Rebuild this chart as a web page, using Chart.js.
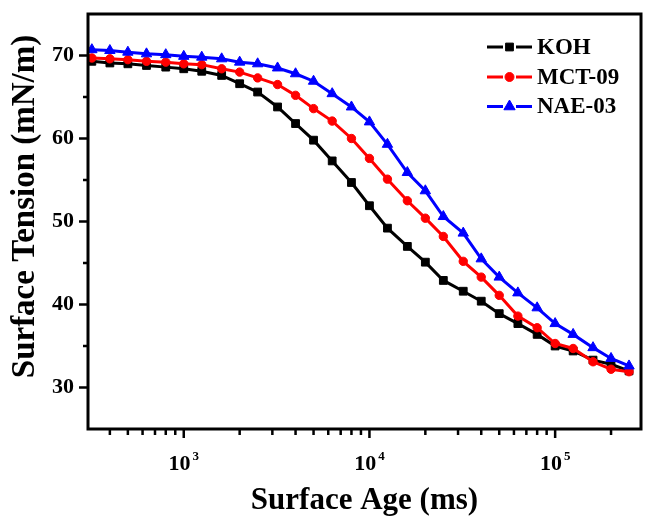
<!DOCTYPE html>
<html>
<head>
<meta charset="utf-8">
<script src="https://cdn.jsdelivr.net/npm/chart.js@4/dist/chart.umd.min.js"></script>
<style>
  html, body { margin: 0; padding: 0; background: #fff; }
  canvas { display: block; }
</style>
</head>
<body>
<canvas id="tensionChart" width="648" height="519"></canvas>
<script>
// surface age in ms (same sampling for the three solutions)
const surfaceAge = [320, 400, 500, 630, 800, 1000, 1250, 1600, 2000, 2500,
  3200, 4000, 5000, 6300, 8000, 10000, 12500, 16000, 20000, 25000,
  32000, 40000, 50000, 63000, 80000, 100000, 125000, 160000, 200000, 250000];

// surface tension in mN/m
const kohTension = [69.3, 69.1, 69.0, 68.8, 68.6, 68.4, 68.1, 67.6, 66.6, 65.6,
  63.8, 61.8, 59.8, 57.3, 54.7, 51.9, 49.2, 47.0, 45.1, 42.9,
  41.6, 40.4, 38.9, 37.7, 36.4, 35.0, 34.4, 33.3, 32.8, 32.0];
const mct09Tension = [69.7, 69.6, 69.5, 69.3, 69.2, 69.0, 68.9, 68.4, 68.0, 67.3,
  66.5, 65.2, 63.6, 62.1, 60.0, 57.6, 55.1, 52.5, 50.4, 48.2,
  45.2, 43.3, 41.1, 38.6, 37.2, 35.3, 34.7, 33.1, 32.2, 31.9];
const nae03Tension = [70.7, 70.6, 70.4, 70.2, 70.1, 69.9, 69.8, 69.6, 69.2, 69.0,
  68.5, 67.8, 66.9, 65.4, 63.8, 62.0, 59.3, 55.9, 53.7, 50.6,
  48.6, 45.5, 43.3, 41.4, 39.6, 37.7, 36.4, 34.8, 33.5, 32.6];

const seriesNames = ['KOH', 'MCT-09', 'NAE-03'];
const yTitle = 'Surface Tension (mN/m)';

const yTickValues = [30, 40, 50, 60, 70];
const yMinorTicks = [35, 45, 55, 65];
const xTickValues = [1000, 10000, 100000];
const xTickExponents = ['3', '4', '5'];
const xMinorTicks = [400, 500, 600, 700, 800, 900,
  2000, 3000, 4000, 5000, 6000, 7000, 8000, 9000,
  20000, 30000, 40000, 50000, 60000, 70000, 80000, 90000, 200000];

const serif = "'Liberation Serif', 'Times New Roman', serif";

function toPoints(values) {
  return surfaceAge.map((x, i) => ({ x: x, y: values[i] }));
}

// box frame, outward ticks, the 10^n labels and the y title
const axesPlugin = {
  id: 'axesPlugin',
  afterDatasetsDraw(chart) {
    const ctx = chart.ctx;
    const area = chart.chartArea;
    const xs = chart.scales.x;
    const ys = chart.scales.y;
    ctx.save();
    ctx.strokeStyle = '#000';
    ctx.lineWidth = 3;
    ctx.strokeRect(area.left, area.top, area.right - area.left, area.bottom - area.top);

    ctx.lineWidth = 2.5;
    ctx.beginPath();
    xTickValues.forEach(v => {
      const px = xs.getPixelForValue(v);
      ctx.moveTo(px, area.bottom);
      ctx.lineTo(px, area.bottom + 9);
    });
    xMinorTicks.forEach(v => {
      const px = xs.getPixelForValue(v);
      ctx.moveTo(px, area.bottom);
      ctx.lineTo(px, area.bottom + 6);
    });
    yTickValues.forEach(v => {
      const py = ys.getPixelForValue(v);
      ctx.moveTo(area.left, py);
      ctx.lineTo(area.left - 9, py);
    });
    yMinorTicks.forEach(v => {
      const py = ys.getPixelForValue(v);
      ctx.moveTo(area.left, py);
      ctx.lineTo(area.left - 5, py);
    });
    ctx.stroke();

    // x tick labels: "10" with a raised exponent
    ctx.fillStyle = '#000';
    ctx.textBaseline = 'alphabetic';
    xTickValues.forEach((v, i) => {
      const px = xs.getPixelForValue(v);
      ctx.font = 'bold 22px ' + serif;
      const baseW = ctx.measureText('10').width;
      ctx.font = 'bold 13px ' + serif;
      const expW = ctx.measureText(xTickExponents[i]).width;
      const start = px - (baseW + 2 + expW) / 2;
      ctx.font = 'bold 22px ' + serif;
      ctx.textAlign = 'left';
      ctx.fillText('10', start, area.bottom + 41);
      ctx.font = 'bold 13px ' + serif;
      ctx.fillText(xTickExponents[i], start + baseW + 2, area.bottom + 31);
    });

    // y title, sits a little above the middle of the axis in the original
    ctx.translate(34, 206.5);
    ctx.rotate(-Math.PI / 2);
    ctx.font = 'bold 33px ' + serif;
    ctx.textAlign = 'center';
    ctx.fillText(yTitle, 0, 0);
    ctx.restore();
  }
};

// legend in the upper right corner: line - marker - line, then the name
const legendPlugin = {
  id: 'cornerLegend',
  afterDraw(chart) {
    const ctx = chart.ctx;
    const rowY = [47, 77, 106.5];
    const markerSize = [5.5, 4.5, 6.5];
    ctx.save();
    chart.data.datasets.forEach((ds, i) => {
      const y = rowY[i];
      ctx.strokeStyle = ds.borderColor;
      ctx.fillStyle = ds.borderColor;
      ctx.lineWidth = 3;
      ctx.beginPath();
      ctx.moveTo(487, y);
      ctx.lineTo(503, y);
      ctx.moveTo(516, y);
      ctx.lineTo(532, y);
      ctx.stroke();
      ctx.lineWidth = 1;
      Chart.helpers.drawPoint(ctx, {
        pointStyle: ds.pointStyle, radius: markerSize[i], borderWidth: 1, rotation: 0
      }, 509.5, y);
      ctx.fillStyle = '#000';
      ctx.font = 'bold 23px ' + serif;
      ctx.textAlign = 'left';
      ctx.textBaseline = 'middle';
      ctx.fillText(ds.label, 537, y + 1);
    });
    ctx.restore();
  }
};

const tensionChart = new Chart(document.getElementById('tensionChart'), {
  type: 'line',
  data: {
    datasets: [{
      label: seriesNames[0],
      data: toPoints(kohTension),
      borderColor: '#000000',
      backgroundColor: '#000000',
      pointStyle: 'rect',
      pointRadius: 5.5,
      pointBorderWidth: 1,
      borderWidth: 3,
      order: 3
    }, {
      label: seriesNames[1],
      data: toPoints(mct09Tension),
      borderColor: '#ff0000',
      backgroundColor: '#ff0000',
      pointStyle: 'circle',
      pointRadius: 4.2,
      pointBorderWidth: 1,
      borderWidth: 3,
      order: 2
    }, {
      label: seriesNames[2],
      data: toPoints(nae03Tension),
      borderColor: '#0000ff',
      backgroundColor: '#0000ff',
      pointStyle: 'triangle',
      pointRadius: 6,
      pointBorderWidth: 1,
      borderWidth: 3,
      order: 1
    }]
  },
  options: {
    responsive: false,
    animation: false,
    devicePixelRatio: 1,
    layout: { padding: { top: 14, right: 1, left: 0, bottom: 0 } },
    elements: { line: { tension: 0 } },
    plugins: {
      legend: { display: false },
      tooltip: { enabled: false }
    },
    scales: {
      x: {
        type: 'logarithmic',
        min: 305,
        max: 290000,
        grid: { display: false, drawTicks: false },
        border: { display: false },
        ticks: { display: false },
        afterBuildTicks: scale => { scale.ticks = xTickValues.map(v => ({ value: v })); },
        afterFit: scale => {
          scale.height = 90;
          scale.paddingLeft = 0;
          scale.paddingRight = 0;
        },
        title: {
          display: true,
          text: 'Surface Age (ms)',
          color: '#000',
          font: { family: serif, size: 31, weight: 'bold', lineHeight: 1 },
          padding: { top: 0, bottom: 2.5 }
        }
      },
      y: {
        type: 'linear',
        min: 25,
        max: 75,
        grid: { display: false, drawTicks: false },
        border: { display: false },
        ticks: {
          color: '#000',
          padding: 14,
          font: { family: serif, size: 22, weight: 'bold' }
        },
        afterBuildTicks: scale => { scale.ticks = yTickValues.map(v => ({ value: v })); },
        afterFit: scale => {
          scale.width = 88;
          scale.paddingTop = 0;
          scale.paddingBottom = 0;
        },
        title: { display: false }
      }
    }
  },
  plugins: [axesPlugin, legendPlugin]
});
</script>
</body>
</html>
